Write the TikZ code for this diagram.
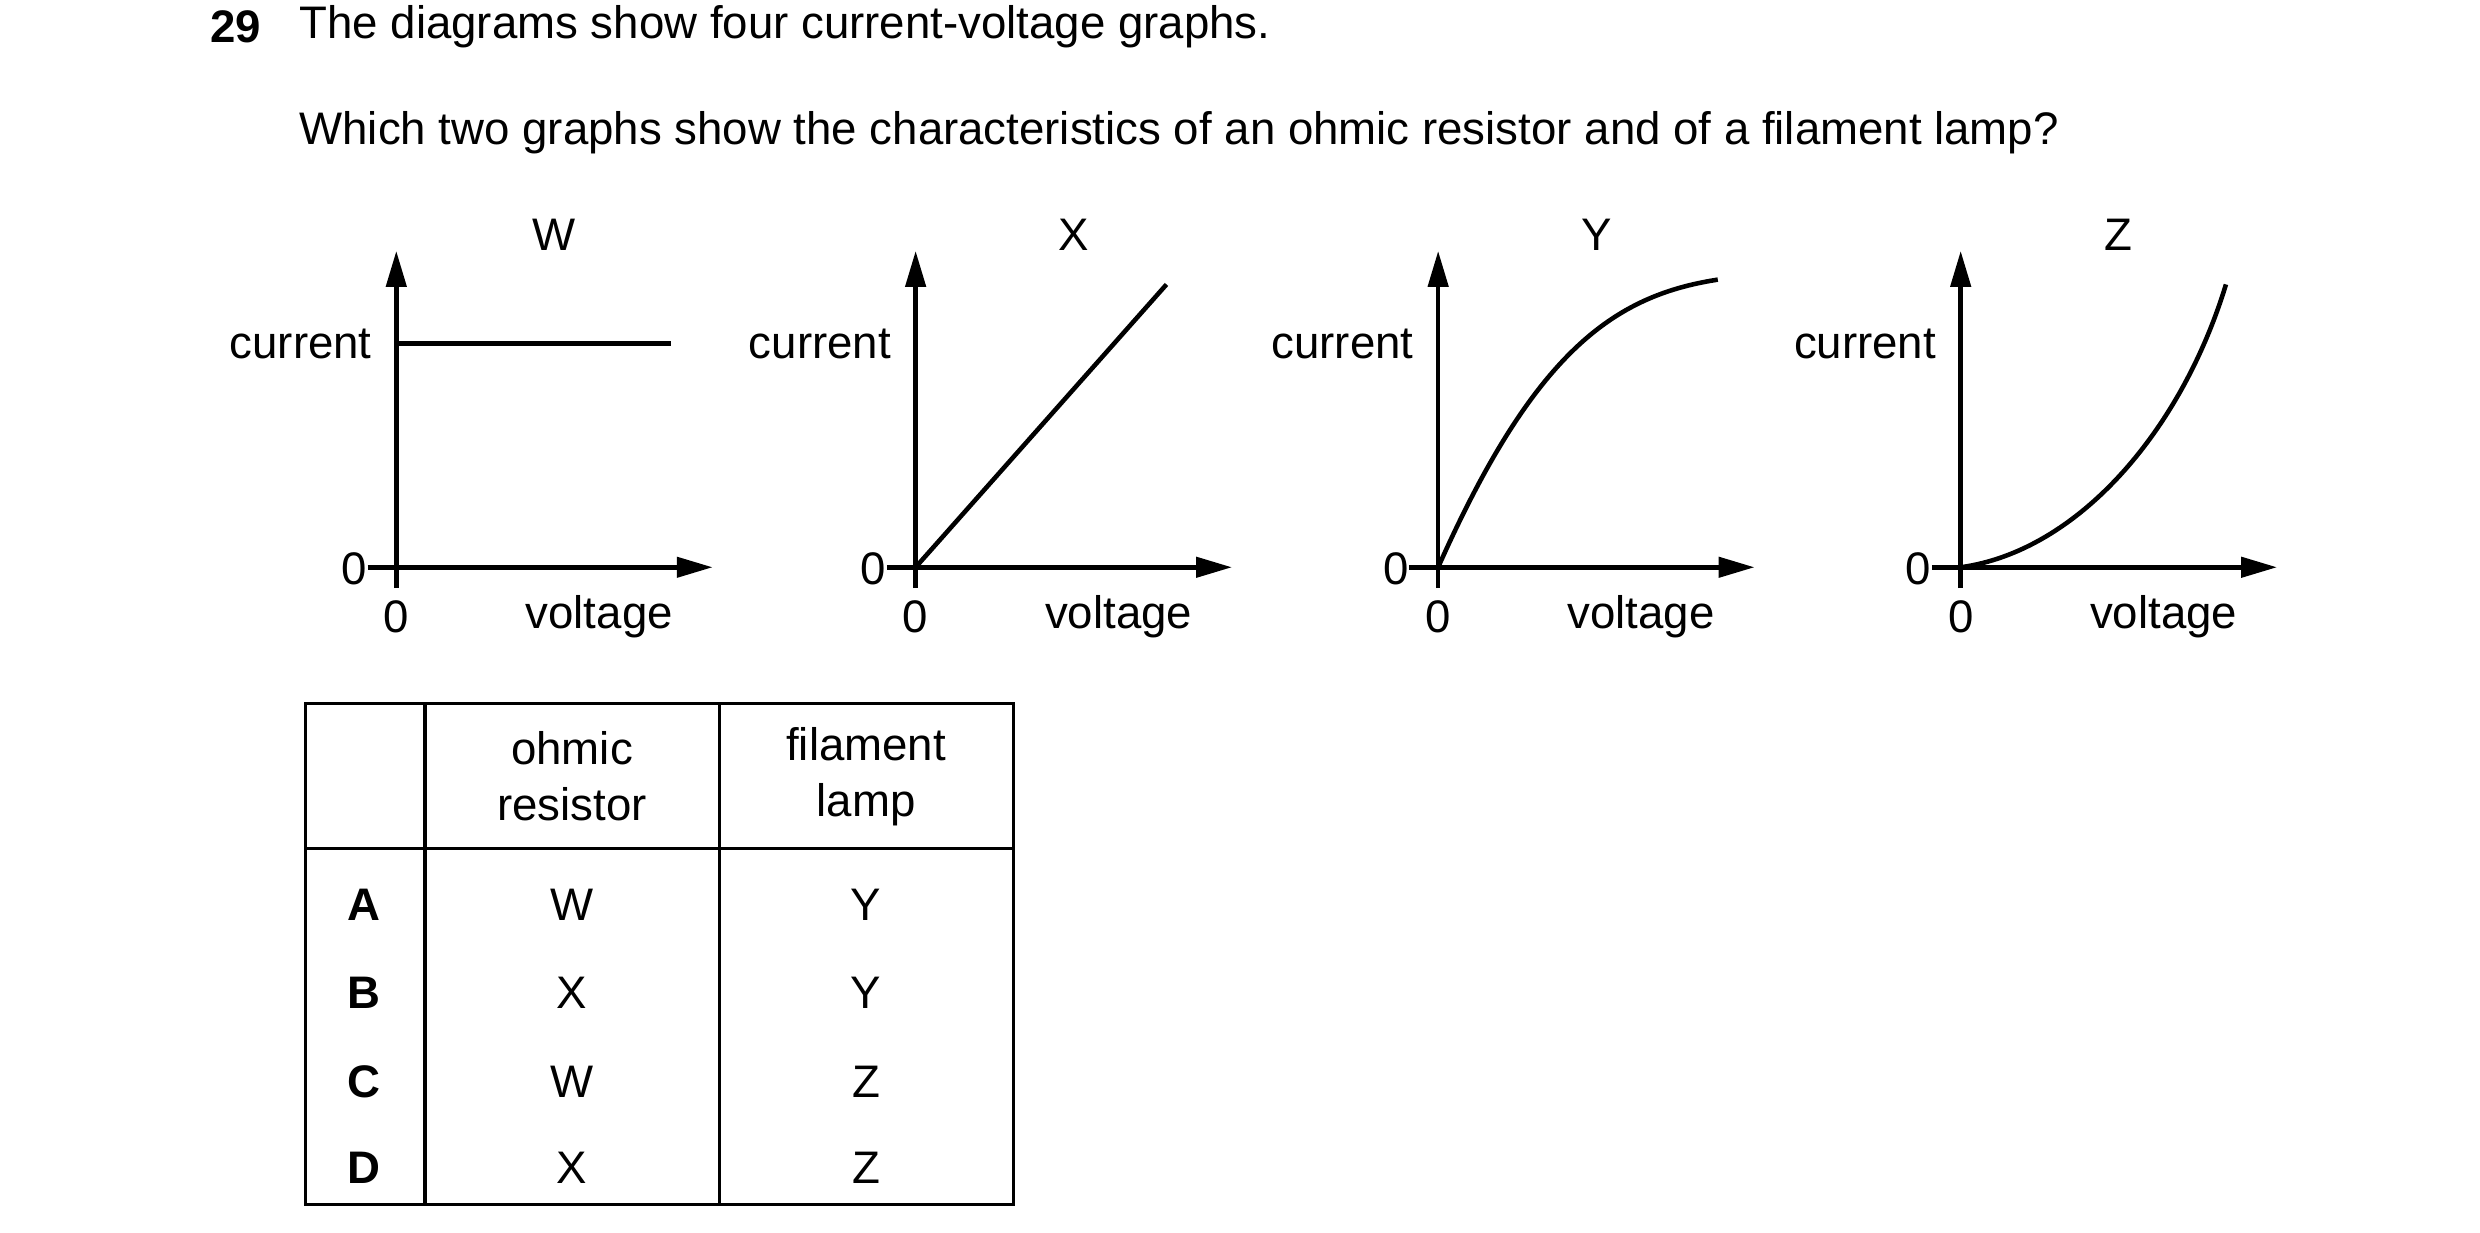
\documentclass[tikz,border=0pt]{standalone}
\usepackage{fontspec}
\setmainfont{Liberation Sans}
\usetikzlibrary{arrows.meta}
\tikzstyle{axis}=[line width=1.3pt,-{Triangle[length=0.36cm,width=0.2cm]}]
\tikzstyle{curve}=[line width=1.3pt]
\tikzstyle{grid}=[line width=0.9pt]
\newcommand{\drawaxes}[2]{% #1 x offset, #2 graph name
  \coordinate (o#2) at (#1,355);
  \coordinate (yt#2) at (#1,157);
  \coordinate (xt#2) at (#1+198,355);
  \coordinate (tl#2) at (#1-18,355);
  \coordinate (tb#2) at (#1,368);
  \draw[axis] (tb#2) -- (yt#2);
  \draw[axis] (tl#2) -- (xt#2);
  \node[anchor=east,inner sep=0] (cur#2) at (#1-15,215) {current};
  \node[anchor=east,inner sep=0] (zy#2) at (#1-18,356) {0};
  \node (zx#2) at (#1,386) {0};
  \node (volt#2) at (#1+127,386) {voltage};
  \node (name#2) at (#1+99,147) {#2};
}
\begin{document}
\begin{tikzpicture}[x=0.016cm,y=-0.016cm,font=\fontsize{13pt}{15.6pt}\selectfont]
\useasboundingbox (0,0) rectangle (1552,771);
% question
\node[anchor=west,inner sep=0,font=\fontsize{13pt}{15.6pt}\selectfont\bfseries] (num) at (131,17) {29};
\node[anchor=west,inner sep=0] (q1) at (187,17) {The diagrams show four current-voltage graphs.};
\node[anchor=west,inner sep=0] (q2) at (187,83) {Which two graphs show the characteristics of an ohmic resistor and of a filament lamp?};
% graphs
\drawaxes{248}{W}
\coordinate (wa) at (248,215); \coordinate (wb) at (420,215);
\draw[curve] (wa) -- (wb);
\drawaxes{573}{X}
\coordinate (xb) at (730,178);
\draw[curve] (oX) -- (xb);
\drawaxes{900}{Y}
\coordinate (yb) at (1075,175);
\draw[curve] (oY) .. controls (960,220) and (1010,185) .. (yb);
\drawaxes{1227}{Z}
\coordinate (zb) at (1393,178);
\draw[curve] (oZ) .. controls (1300,345) and (1365,270) .. (zb);
% table
\draw[grid] (191,440) rectangle (634,754);
\draw[grid] (266,440) -- (266,754);
\draw[grid] (450,440) -- (450,754);
\draw[grid] (191,531) -- (634,531);
\node[align=center,font=\fontsize{13pt}{16pt}\selectfont] (hr) at (358,486) {ohmic\\resistor};
\node[align=center,font=\fontsize{13pt}{16pt}\selectfont] (hl) at (542,486) {filament\\lamp};
\foreach \l/\r/\f/\yy in {A/W/Y/566,B/X/Y/621,C/W/Z/677,D/X/Z/731}{
  \node[font=\fontsize{13pt}{15.6pt}\selectfont\bfseries] (row\l) at (228,\yy) {\l};
  \node (res\l) at (358,\yy) {\r};
  \node (lamp\l) at (542,\yy) {\f};
}
\end{tikzpicture}
\end{document}
